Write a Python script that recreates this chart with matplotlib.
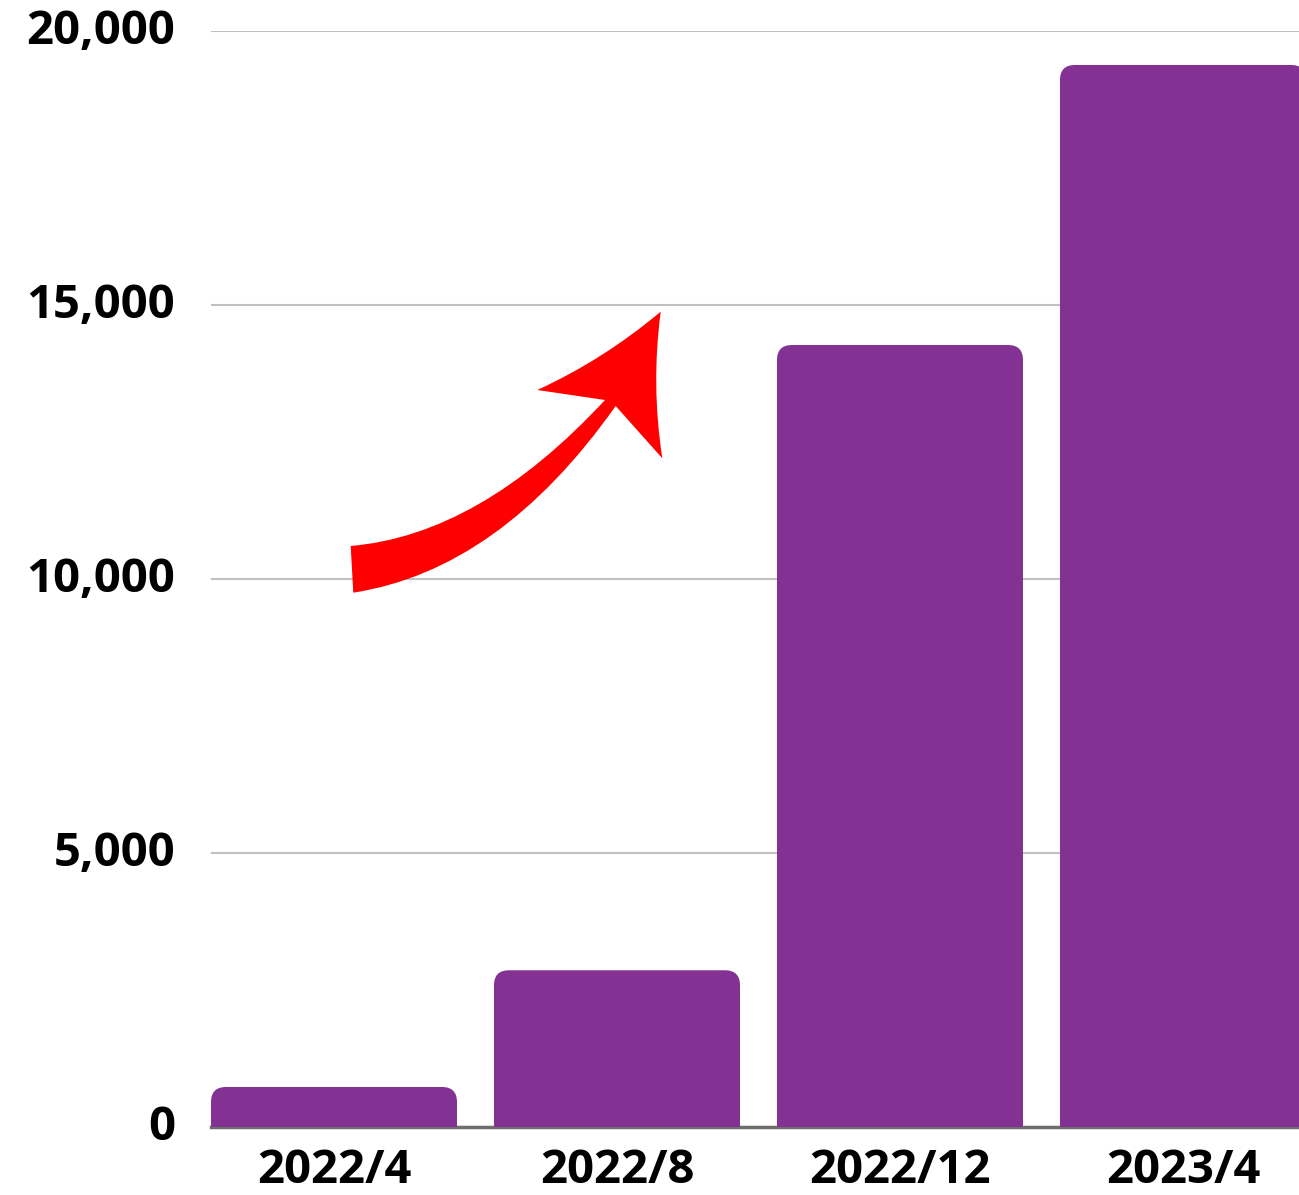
import matplotlib
matplotlib.use("Agg")
import matplotlib.pyplot as plt
from matplotlib.patches import FancyBboxPatch, PathPatch
from matplotlib.path import Path
from matplotlib.transforms import Affine2D
from matplotlib.ticker import FuncFormatter

categories = ["2022/4", "2022/8", "2022/12", "2023/4"]
values = [730, 2860, 14270, 19380]
yticks = [0, 5000, 10000, 15000, 20000]

BAR_COLOR = "#833294"
W, H = 1299, 1195
plt.rcParams['font.family'] = ['Open Sans', 'DejaVu Sans']

fig = plt.figure(figsize=(W / 100, H / 100), dpi=100)
spacing = 283.0
left_px, bottom_px, top_px = 211, 1127, 31
xmin, xmax = -0.4346, 3.5
ax_w = (xmax - xmin) * spacing
ax = fig.add_axes([left_px / W, 1 - bottom_px / H, ax_w / W, (bottom_px - top_px) / H])

x = list(range(len(categories)))
bw = 246 / spacing
bars = ax.bar(x, values, width=bw, color=BAR_COLOR, zorder=3)
# replace with top-rounded bars
r_x = 15 / spacing
r_y = 15 / ((bottom_px - top_px) / 20000)
for b in bars:
    b.set_visible(False)
    bx, by, bwid, bh = b.get_x(), b.get_y(), b.get_width(), b.get_height()
    p = FancyBboxPatch((bx, by - 2 * r_y), bwid, bh + 2 * r_y,
                       boxstyle=f"round,pad=0,rounding_size={r_x}",
                       mutation_aspect=r_y / r_x,
                       facecolor=BAR_COLOR, edgecolor="none", zorder=3)
    ax.add_patch(p)

ax.set_xlim(xmin, xmax)
ax.set_ylim(0, 20000)
ax.set_yticks(yticks)
ax.yaxis.set_major_formatter(FuncFormatter(lambda v, p: f"{int(v):,}"))
ax.set_xticks(x)
ax.set_xticklabels(categories)
ax.grid(axis="y", color="#c0c0c0", linewidth=1.5, zorder=0)
ax.set_axisbelow(True)
for s in ax.spines.values():
    s.set_visible(False)
ax.axhline(0, color="#6e6e6e", linewidth=2.5, zorder=2, clip_on=False)
ax.tick_params(axis="both", length=0, labelsize=34, colors="#000000")
ax.tick_params(axis="y", pad=26)
ax.tick_params(axis="x", pad=14.5)
for lab in ax.get_xticklabels() + ax.get_yticklabels():
    lab.set_fontweight("bold")
for lab in ax.get_yticklabels():
    lab.set_va("center")

# decorative red arrow (pixel coordinates)
verts = [
    (350.7, 546.0),
    (480, 535), (605, 400),
    (537.3, 390.0),
    (603, 360), (660.7, 311.7),
    (651, 385), (662.3, 458.3),
    (615.7, 406.0),
    (500, 570), (353.3, 592.7),
    (350.7, 546.0),
]
codes = [Path.MOVETO,
         Path.CURVE3, Path.CURVE3,
         Path.LINETO,
         Path.CURVE3, Path.CURVE3,
         Path.CURVE3, Path.CURVE3,
         Path.LINETO,
         Path.CURVE3, Path.CURVE3,
         Path.CLOSEPOLY]
tr = Affine2D().scale(1 / W, -1 / H).translate(0, 1) + fig.transFigure
fig.patches.append(PathPatch(Path(verts, codes), facecolor="#ff0000",
                             edgecolor="none", transform=tr, zorder=10))

fig.savefig("out.png", dpi=100)
